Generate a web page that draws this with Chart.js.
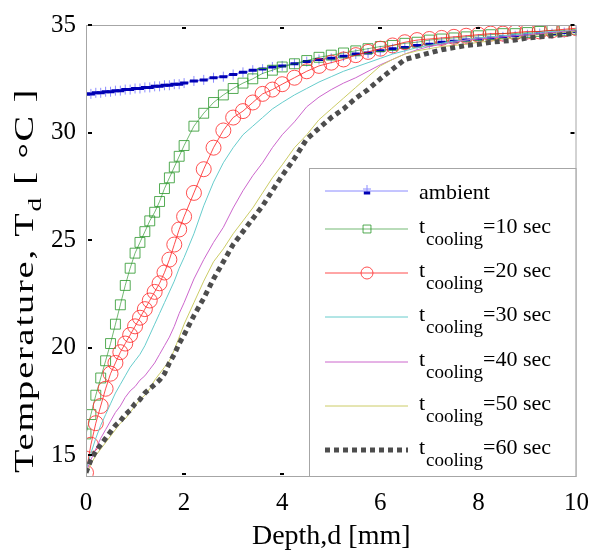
<!DOCTYPE html>
<html>
<head>
<meta charset="utf-8">
<script src="https://cdn.jsdelivr.net/npm/chart.js@4.4.1/dist/chart.umd.min.js"></script>
<style>
  html, body { margin: 0; padding: 0; background: #fff; }
</style>
</head>
<body>
<canvas id="tempChart" width="600" height="555"></canvas>
<script>
// depth grid [mm]
const depth = [0, 0.1, 0.2, 0.3, 0.4, 0.5, 0.6, 0.7, 0.8, 0.9, 1.0, 1.1, 1.2, 1.3, 1.4, 1.5, 1.6, 1.7, 1.8, 1.9, 2.0,
  2.2, 2.4, 2.6, 2.8, 3.0, 3.2, 3.4, 3.6, 3.8, 4.0,
  4.25, 4.5, 4.75, 5.0, 5.25, 5.5, 5.75, 6.0, 6.25, 6.5, 6.75, 7.0, 7.25, 7.5, 7.75, 8.0, 8.25, 8.5, 8.75, 9.0, 9.25, 9.5, 9.75, 10.0];

// temperatures [°C]
const ambient = [31.8, 31.8, 31.85, 31.85, 31.9, 31.9, 31.95, 31.95, 32.0, 32.0, 32.05, 32.05, 32.1, 32.1, 32.15, 32.15, 32.2, 32.2, 32.25, 32.25, 32.3,
  32.4, 32.45, 32.55, 32.6, 32.7, 32.8, 32.9, 32.95, 33.05, 33.1,
  33.2, 33.3, 33.4, 33.45, 33.55, 33.65, 33.7, 33.8, 33.9, 33.95, 34.05, 34.1, 34.2, 34.25, 34.3, 34.35, 34.4, 34.45, 34.5, 34.55, 34.6, 34.6, 34.65, 34.7];
const cool10 = [16.0, 16.9, 17.8, 18.6, 19.4, 20.2, 21.1, 22.0, 22.9, 23.7, 24.4, 24.9, 25.4, 25.9, 26.3, 26.8, 27.4, 27.9, 28.4, 28.9, 29.4,
  30.3, 30.9, 31.4, 31.75, 32.05, 32.3, 32.5, 32.75, 32.9, 33.05,
  33.2, 33.35, 33.5, 33.6, 33.7, 33.8, 33.9, 34.0, 34.05, 34.15, 34.2, 34.3, 34.35, 34.4, 34.45, 34.5, 34.55, 34.6, 34.6, 34.65, 34.7, 34.75, 34.75, 34.8];
const cool20 = [14.2, 15.5, 16.5, 17.3, 18.1, 18.8, 19.3, 19.8, 20.2, 20.6, 21.0, 21.4, 21.8, 22.2, 22.6, 23.0, 23.5, 24.1, 24.8, 25.5, 26.1,
  27.2, 28.3, 29.3, 30.1, 30.7, 31.0, 31.4, 31.8, 32.0, 32.25,
  32.55, 32.85, 33.1, 33.25, 33.4, 33.6, 33.75, 33.9, 34.05, 34.2, 34.3, 34.35, 34.4, 34.45, 34.5, 34.55, 34.6, 34.6, 34.65, 34.7, 34.7, 34.75, 34.8, 34.85];
const cool30 = [14.3, 15.1, 15.8, 16.4, 16.9, 17.4, 17.9, 18.3, 18.7, 19.1, 19.4, 19.7, 20.1, 20.6, 21.1, 21.6, 22.1, 22.6, 23.1, 23.7, 24.2,
  25.3, 26.6, 27.7, 28.6, 29.3, 29.9, 30.3, 30.7, 31.1, 31.4,
  31.75, 32.05, 32.35, 32.6, 32.85, 33.05, 33.25, 33.45, 33.65, 33.8, 33.95, 34.05, 34.15, 34.25, 34.3, 34.4, 34.45, 34.5, 34.55, 34.6, 34.65, 34.7, 34.7, 34.75];
const cool40 = [14.2, 14.8, 15.3, 15.8, 16.2, 16.6, 17.0, 17.3, 17.7, 18.0, 18.2, 18.5, 18.7, 19.0, 19.3, 19.7, 20.1, 20.5, 21.0, 21.6, 22.1,
  23.2, 24.1, 24.9, 25.6, 26.5, 27.3, 28.0, 28.6, 29.3, 29.9,
  30.5, 31.2, 31.65, 32.0, 32.3, 32.55, 32.85, 33.15, 33.4, 33.65, 33.85, 34.0, 34.1, 34.2, 34.3, 34.35, 34.4, 34.45, 34.5, 34.55, 34.6, 34.65, 34.7, 34.75];
const cool50 = [14.1, 14.6, 15.0, 15.3, 15.6, 15.9, 16.2, 16.5, 16.7, 17.0, 17.3, 17.6, 17.8, 18.1, 18.5, 18.8, 19.1, 19.4, 19.9, 20.5, 21.1,
  22.1, 23.1, 24.0, 24.6, 25.3, 25.9, 26.5, 27.2, 27.9, 28.5,
  29.3, 29.9, 30.6, 31.1, 31.6, 32.1, 32.6, 33.1, 33.4, 33.65, 33.8, 33.9, 34.0, 34.05, 34.1, 34.2, 34.25, 34.35, 34.4, 34.5, 34.55, 34.6, 34.65, 34.7];
const cool60 = [14.2, 14.8, 15.2, 15.5, 15.8, 16.1, 16.4, 16.6, 16.9, 17.1, 17.4, 17.6, 17.9, 18.1, 18.3, 18.5, 18.8, 19.3, 19.7, 20.2, 20.6,
  21.5, 22.3, 23.2, 24.0, 24.8, 25.4, 26.0, 26.6, 27.3, 28.0,
  28.8, 29.7, 30.2, 30.7, 31.1, 31.6, 32.0, 32.5, 32.95, 33.4, 33.55, 33.7, 33.85, 33.95, 34.05, 34.1, 34.2, 34.25, 34.3, 34.4, 34.45, 34.5, 34.55, 34.65];

const coolingTimes = [10, 20, 30, 40, 50, 60];
const xTicks = [0, 2, 4, 6, 8, 10];
const yTicks = [15, 20, 25, 30, 35];

const serif = "'Liberation Serif', 'Times New Roman', serif";

function pts(values) {
  return values.map((v, i) => ({ x: depth[i], y: v }));
}
function coolLabel(t) {
  return 't_cooling=' + t + ' sec';
}

const thin = { borderWidth: 1, pointRadius: 0, tension: 0 };

const datasets = [
  // ambient: light "+" marks and dark dashes on the same points
  { ...thin, label: 'ambient+', noLegend: true, data: pts(ambient), showLine: false,
    pointStyle: 'cross', pointRadius: 5, pointBorderWidth: 1, pointBorderColor: '#8c8cff', borderColor: '#8c8cff' },
  { ...thin, label: 'ambient', data: pts(ambient), borderColor: 'rgba(60,60,255,0.6)',
    pointStyle: 'line', pointRadius: 4, pointBorderWidth: 3, pointBorderColor: '#0000b4' },
  { ...thin, label: coolLabel(coolingTimes[0]), data: pts(cool10), borderColor: 'rgba(0,128,0,0.55)',
    pointStyle: 'rect', pointRadius: 7, pointBorderWidth: 1, pointBorderColor: 'rgba(40,150,40,0.8)', pointBackgroundColor: 'rgba(0,0,0,0)' },
  { ...thin, label: coolLabel(coolingTimes[1]), data: pts(cool20), borderColor: 'rgba(255,0,0,0.7)',
    pointStyle: 'circle', pointRadius: 7.5, pointBorderWidth: 1, pointBorderColor: 'rgba(255,50,50,0.85)', pointBackgroundColor: 'rgba(0,0,0,0)' },
  { ...thin, label: coolLabel(coolingTimes[2]), data: pts(cool30), borderColor: '#66cccc' },
  { ...thin, label: coolLabel(coolingTimes[3]), data: pts(cool40), borderColor: '#cc66cc' },
  { ...thin, label: coolLabel(coolingTimes[4]), data: pts(cool50), borderColor: '#cccc66' },
  { ...thin, label: coolLabel(coolingTimes[5]), data: pts(cool60), borderColor: '#4d4d4d',
    borderWidth: 5, borderDash: [5, 4], borderCapStyle: 'butt' }
];
// later series on top, like the original plot
datasets.forEach((ds, i) => { ds.order = datasets.length - i; });

function line(ctx, x1, y1, x2, y2) {
  ctx.beginPath(); ctx.moveTo(x1, y1); ctx.lineTo(x2, y2); ctx.stroke();
}

function drawYTitle(ctx) {
  const big = '27px ' + serif, small = '19px ' + serif;
  // text, font, shift across the baseline
  const parts = [['Temperature, T', big, 0], ['d', small, 8], [' [ ', big, 0], ['\u00b0', big, 4], ['C ]', big, 0]];
  const start = 473, end = 88, stretch = 1.42;
  ctx.save();
  ctx.letterSpacing = '0px';
  let total = 0, chars = 0;
  parts.forEach(p => { ctx.font = p[1]; total += ctx.measureText(p[0]).width; chars += p[0].length; });
  const spacing = Math.max(0, ((start - end) / stretch - total) / chars);
  ctx.translate(33, start);
  ctx.rotate(-Math.PI / 2);
  ctx.scale(stretch, 1);
  ctx.fillStyle = '#000';
  ctx.textBaseline = 'alphabetic';
  ctx.letterSpacing = spacing.toFixed(2) + 'px';
  let cx = 0;
  parts.forEach(p => {
    ctx.font = p[1];
    ctx.fillText(p[0], cx, p[2]);
    cx += ctx.measureText(p[0]).width;
  });
  ctx.restore();
}

const framePlugin = {
  id: 'framePlugin',
  afterDatasetsDraw(chart) {
    const { ctx, chartArea: a, scales: { x, y } } = chart;
    ctx.save();
    ctx.strokeStyle = '#a6a6a6';
    ctx.lineWidth = 1;
    ctx.strokeRect(a.left + 0.5, a.top + 0.5, a.right - a.left - 1, a.bottom - a.top - 1);

    // small inward tick marks
    ctx.strokeStyle = '#000';
    ctx.lineWidth = 2;
    yTicks.forEach(v => {
      const py = Math.round(y.getPixelForValue(v));
      line(ctx, a.left + 2, py, a.left + 6, py);
      line(ctx, a.right - 6, py, a.right - 2, py);
    });
    xTicks.slice(1, -1).forEach(v => {
      const px = Math.round(x.getPixelForValue(v));
      line(ctx, px - 2, a.top + 3, px + 2, a.top + 3);
      line(ctx, px - 2, a.bottom - 3, px + 2, a.bottom - 3);
    });

    // legend box
    const box = { left: 309, top: 168, right: a.right - 1, bottom: a.bottom - 1 };
    ctx.fillStyle = '#fff';
    ctx.fillRect(box.left, box.top, box.right - box.left, box.bottom - box.top);
    ctx.strokeStyle = '#a6a6a6';
    ctx.lineWidth = 1;
    ctx.strokeRect(box.left + 0.5, box.top + 0.5, box.right - box.left, box.bottom - box.top);

    const rows = [191, 229, 273, 317, 362, 406, 450];
    const items = chart.data.datasets.filter(ds => !ds.noLegend);
    const extra = chart.data.datasets.find(ds => ds.noLegend);
    items.forEach((ds, k) => {
      const ry = rows[k];
      ctx.save();
      ctx.strokeStyle = ds.borderColor;
      ctx.lineWidth = ds.borderWidth;
      ctx.setLineDash(ds.borderDash || []);
      line(ctx, 325, ry, 408, ry);
      ctx.restore();
      if (ds.pointRadius > 0) {
        if (ds.label === 'ambient' && extra) {
          ctx.strokeStyle = extra.pointBorderColor;
          ctx.lineWidth = 1;
          Chart.helpers.drawPoint(ctx, { pointStyle: 'cross', radius: 4, borderWidth: 1, rotation: 0 }, 367, ry - 2);
        }
        ctx.strokeStyle = ds.pointBorderColor;
        ctx.fillStyle = 'rgba(0,0,0,0)';
        ctx.lineWidth = ds.pointBorderWidth;
        Chart.helpers.drawPoint(ctx, { pointStyle: ds.pointStyle, radius: ds.pointRadius * 0.8,
          borderWidth: ds.pointBorderWidth, rotation: 0 }, 367, ry + (ds.label === 'ambient' ? 2 : 0));
      }
      ctx.fillStyle = '#000';
      ctx.textBaseline = 'middle';
      ctx.textAlign = 'left';
      const m = ds.label.match(/^(.*)_([a-z]+)(.*)$/);
      const big = '22px ' + serif, small = '19px ' + serif;
      if (m) {
        let tx = 419;
        ctx.font = big; ctx.fillText(m[1], tx, ry - 2); tx += ctx.measureText(m[1]).width + 1;
        ctx.font = small; ctx.fillText(m[2], tx, ry + 11); tx += ctx.measureText(m[2]).width;
        ctx.font = big; ctx.fillText(m[3], tx, ry - 2);
      } else {
        ctx.font = big; ctx.fillText(ds.label, 419, ry + 2);
      }
    });

    drawYTitle(ctx);
    ctx.restore();
  }
};

new Chart(document.getElementById('tempChart').getContext('2d'), {
  type: 'line',
  data: { datasets: datasets },
  options: {
    responsive: false,
    animation: false,
    layout: { padding: { top: 22, right: 21, left: 0, bottom: 0 } },
    plugins: { legend: { display: false }, tooltip: { enabled: false } },
    scales: {
      x: {
        type: 'linear', min: 0, max: 10,
        afterFit: s => { s.height = 78; },
        afterBuildTicks: s => { s.ticks = xTicks.map(v => ({ value: v })); },
        grid: { display: false, drawTicks: false },
        border: { display: false },
        ticks: { color: '#000', padding: 11, font: { family: serif, size: 25 } },
        title: { display: true, text: 'Depth,d [mm]', color: '#000',
          font: { family: serif, size: 28 }, padding: { top: 0, bottom: 2 } }
      },
      y: {
        type: 'linear', min: 14, max: 35,
        afterFit: s => { s.width = 86; },
        afterBuildTicks: s => { s.ticks = yTicks.map(v => ({ value: v })); },
        grid: { display: false, drawTicks: false },
        border: { display: false },
        ticks: { color: '#000', padding: 10, font: { family: serif, size: 25 } }
      }
    }
  },
  plugins: [framePlugin]
});
</script>
</body>
</html>
